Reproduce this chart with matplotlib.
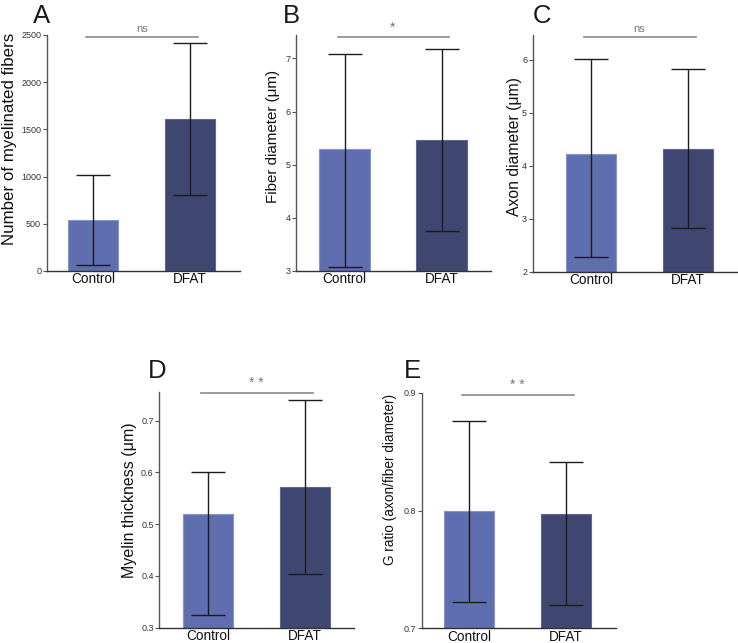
import matplotlib
matplotlib.use("Agg")
import matplotlib.pyplot as plt

plt.rcParams['font.family'] = ['Liberation Sans', 'DejaVu Sans']

groups = ["Control", "DFAT"]

# Panel data: means and lower / upper error bar ends
a_mean = [545, 1605]
a_low = [65, 800]
a_high = [1020, 2410]

b_mean = [5.29, 5.46]
b_low = [3.08, 3.75]
b_high = [7.08, 7.18]

c_mean = [4.23, 4.32]
c_low = [2.28, 2.82]
c_high = [6.01, 5.82]

d_mean = [0.520, 0.571]
d_low = [0.325, 0.404]
d_high = [0.601, 0.739]

e_mean = [0.800, 0.797]
e_low = [0.722, 0.720]
e_high = [0.876, 0.841]

ylabels = ["Number of myelinated fibers", "Fiber diameter (\u03bcm)", "Axon diameter (\u03bcm)",
           "Myelin thickness (\u03bcm)", "G ratio (axon/fiber diameter)"]
letters = ["A", "B", "C", "D", "E"]
sig_texts = ["ns", "*", "ns", "* *", "* *"]
yticks = [[0, 500, 1000, 1500, 2000, 2500], [3, 4, 5, 6, 7], [2, 3, 4, 5, 6],
          [0.3, 0.4, 0.5, 0.6, 0.7], [0.7, 0.8, 0.9]]
ylims = [(0, 2500), (3, 7.44), (2, 6.47), (0.3, 0.756), (0.7, 0.9)]
sig_y = [2480, 7.40, 6.44, 0.753, 0.898]

W, H = 738, 643
fig = plt.figure(figsize=(W / 100, H / 100), dpi=100)

# layout in pixels: spine x, top y, bottom y, xlim left, letter x, letter baseline y,
# ylabel right-edge offset, ylabel vertical fraction, ylabel font size
layout = [
    (46.7, 35, 271, -0.48, 33, 23, 30, 0.56, 12.2),
    (296, 35, 271, -0.50, 283, 23, 16, 0.57, 10.9),
    (532.7, 35, 271.7, -0.60, 533, 23, 11, 0.53, 11.3),
    (159.3, 391.7, 627.7, -0.50, 148, 378, 22, 0.54, 11.5),
    (421.7, 392.7, 628.3, -0.49, 404, 378, 25, 0.63, 9.8),
]
unit = 97.0
xr = 1.51

colors = ["#5f6eae", "#3f4770"]
edges = ["#8793cc", "#5e688f"]

data = [(a_mean, a_low, a_high), (b_mean, b_low, b_high), (c_mean, c_low, c_high),
        (d_mean, d_low, d_high), (e_mean, e_low, e_high)]

for i, (mean, low, high) in enumerate(data):
    sx, top, bot, xl, lx, ly, yoff, yfrac, lfs = layout[i]
    wpx = (xr - xl) * unit
    ax = fig.add_axes([sx / W, 1 - bot / H, wpx / W, (bot - top) / H])
    x = list(range(len(groups)))
    ax.bar(x, mean, width=0.52, color=colors, edgecolor=edges, linewidth=0.8, zorder=2)
    yerr = [[m - l for m, l in zip(mean, low)], [h - m for m, h in zip(mean, high)]]
    ax.errorbar(x, mean, yerr=yerr, fmt='none', ecolor='#1c1c1c', elinewidth=1.0,
                capsize=12, capthick=1.0, zorder=3)
    ax.set_xlim(xl, xr)
    ax.set_ylim(*ylims[i])
    ax.set_yticks(yticks[i])
    ax.set_yticklabels([f"{t:g}" for t in yticks[i]])
    ax.set_xticks(x)
    ax.set_xticklabels(groups, fontsize=9.8, color='#111111')
    ax.tick_params(axis='y', labelsize=6.5, labelcolor='#333333', length=3, width=0.8,
                   color='#555555', pad=1)
    ax.tick_params(axis='x', length=0, pad=1)
    for s in ['top', 'right']:
        ax.spines[s].set_visible(False)
    ax.spines['left'].set_color('#555555')
    ax.spines['bottom'].set_color('#333333')
    ax.spines['left'].set_linewidth(1.0)
    ax.spines['bottom'].set_linewidth(1.0)
    ax.set_ylabel(ylabels[i], fontsize=lfs, color='#111111')
    ax.yaxis.set_label_coords(-yoff / wpx, yfrac)
    ax.plot([-0.07, 1.08], [sig_y[i], sig_y[i]], color='#8a8a8a', lw=1.2, clip_on=False,
            zorder=4)
    ax.annotate(sig_texts[i], xy=(0.5, sig_y[i]), xytext=(0, 2), textcoords='offset points',
                ha='center', va='bottom', fontsize=8 if sig_texts[i] == 'ns' else 10,
                color='#777777', annotation_clip=False)
    fig.text(lx / W, 1 - ly / H, letters[i], fontsize=18.5, color='#1a1a1a',
             ha='left', va='baseline')

fig.savefig("out.png", dpi=100)
